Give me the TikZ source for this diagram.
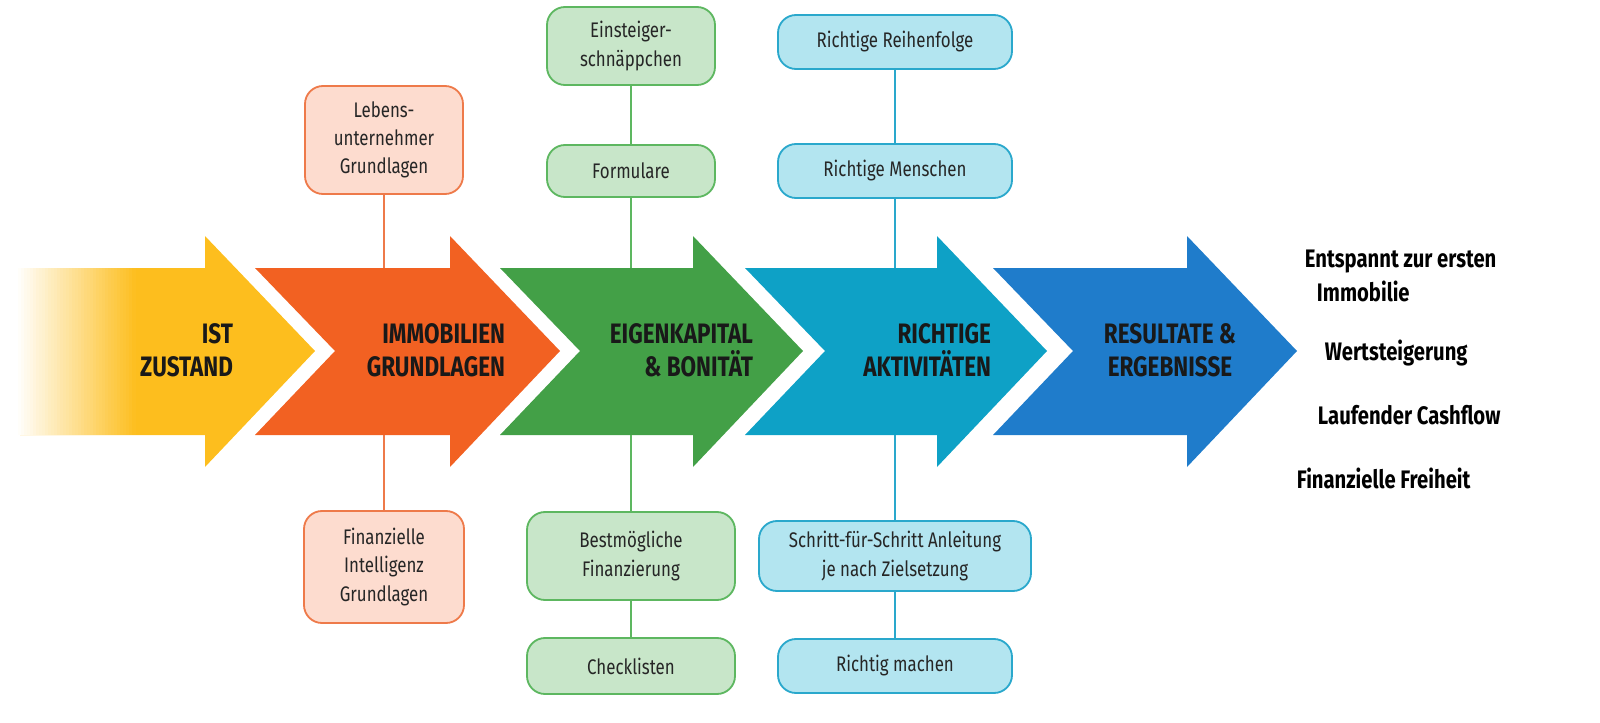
\documentclass[tikz,border=0pt]{standalone}
\usepackage{fontspec}
\setmainfont[FakeStretch=0.8]{Fira Sans}
\usetikzlibrary{positioning}
\definecolor{ylw}{HTML}{FDBE1E}
\definecolor{org}{HTML}{F26122}
\definecolor{grn}{HTML}{43A047}
\definecolor{cyn}{HTML}{0EA1C6}
\definecolor{blu}{HTML}{1F7CCB}
\definecolor{orgL}{HTML}{FDDCCF}
\definecolor{orgD}{HTML}{EE7A4A}
\definecolor{grnL}{HTML}{C8E6C9}
\definecolor{grnD}{HTML}{5DB760}
\definecolor{cynL}{HTML}{B3E5F0}
\definecolor{cynD}{HTML}{2AA8CC}
\tikzset{
  box/.style={draw=#1D, fill=#1L, line width=1.3pt, rounded corners=0.45cm,
    align=center, inner sep=2pt, font=\fontsize{15}{20}\selectfont, text=black!85},
  link/.style={draw=#1D, line width=1.3pt},
  steplabel/.style={font=\bfseries\fontsize{20}{23.5}\selectfont, text=black!90},
  goal/.style={font=\bfseries\fontsize{18}{24}\selectfont, align=left}
}
\begin{document}
\begin{tikzpicture}[x=0.025cm, y=-0.025cm]
    \useasboundingbox (0,0) rectangle (1600,723);

    % yellow start arrow with faded tail
    \fill[ylw] (20,268) -- (205,268) -- (205,236) -- (315,351) -- (205,467) -- (205,435) -- (20,435) -- cycle;
    \foreach \i in {0,...,39}
        \fill[ylw!\fpeval{round(100*\i/40)}!white] (15+\i*3,268) rectangle (18.5+\i*3,435);

    % chevron arrows
    \foreach \s/\h/\c in {255/450/org, 500/693/grn, 745/937/cyn, 993/1187/blu}
        \fill[\c] (\s,268) -- (\h,268) -- (\h,236) -- (\h+110,351) -- (\h,467) -- (\h,435) -- (\s,435) -- (\s+80,351) -- cycle;

    \node[steplabel, align=right, anchor=east] (ist) at (238,350) {IST\\ZUSTAND};
    \node[steplabel, align=right, anchor=east] (immo) at (510,350) {IMMOBILIEN\\GRUNDLAGEN};
    \node[steplabel, align=right, anchor=east] (eigen) at (758,350) {EIGENKAPITAL\\\& BONITÄT};
    \node[steplabel, align=right, anchor=east] (akt) at (996,350) {RICHTIGE\\AKTIVITÄTEN};
    \node[steplabel, align=center] (res) at (1170,350) {RESULTATE \&\\ERGEBNISSE};

    % orange boxes
    \coordinate (oT) at (384,268);
    \coordinate (oB) at (384,435);
    \node[box=org, minimum width=158*0.025cm, minimum height=108*0.025cm] (leben) at (384,140) {Lebens-\\unternehmer\\Grundlagen};
    \node[box=org, minimum width=160*0.025cm, minimum height=112*0.025cm] (fin) at (384,567) {Finanzielle\\Intelligenz\\Grundlagen};
    \draw[link=org] (leben) -- (oT);
    \draw[link=org] (oB) -- (fin);

    % green boxes
    \coordinate (gT) at (631,268);
    \coordinate (gB) at (631,435);
    \node[box=grn, minimum width=168*0.025cm, minimum height=78*0.025cm] (einst) at (631,46) {Einsteiger-\\schnäppchen};
    \node[box=grn, minimum width=168*0.025cm, minimum height=52*0.025cm] (form) at (631,171) {Formulare};
    \node[box=grn, minimum width=208*0.025cm, minimum height=88*0.025cm] (best) at (631,556) {Bestmögliche\\Finanzierung};
    \node[box=grn, minimum width=208*0.025cm, minimum height=56*0.025cm] (check) at (631,666) {Checklisten};
    \draw[link=grn] (einst) -- (form);
    \draw[link=grn] (form) -- (gT);
    \draw[link=grn] (gB) -- (best);
    \draw[link=grn] (best) -- (check);

    % cyan boxes
    \coordinate (cT) at (895,268);
    \coordinate (cB) at (895,435);
    \node[box=cyn, minimum width=234*0.025cm, minimum height=54*0.025cm] (reihe) at (895,42) {Richtige Reihenfolge};
    \node[box=cyn, minimum width=234*0.025cm, minimum height=54*0.025cm] (mensch) at (895,171) {Richtige Menschen};
    \node[box=cyn, minimum width=272*0.025cm, minimum height=70*0.025cm] (schritt) at (895,556) {Schritt-für-Schritt Anleitung\\je nach Zielsetzung};
    \node[box=cyn, minimum width=234*0.025cm, minimum height=54*0.025cm] (richtig) at (895,666) {Richtig machen};
    \draw[link=cyn] (reihe) -- (mensch);
    \draw[link=cyn] (mensch) -- (cT);
    \draw[link=cyn] (cB) -- (schritt);
    \draw[link=cyn] (schritt) -- (richtig);

    % results
    \node[goal, anchor=west] (g1) at (1300,276) {Entspannt zur ersten\\\hspace*{0.3cm}Immobilie};
    \node[goal, anchor=west] (g2) at (1320,353) {Wertsteigerung};
    \node[goal, anchor=west] (g3) at (1313,415) {Laufender Cashflow};
    \node[goal, anchor=west] (g4) at (1292,478) {Finanzielle Freiheit};

\end{tikzpicture}
\end{document}
